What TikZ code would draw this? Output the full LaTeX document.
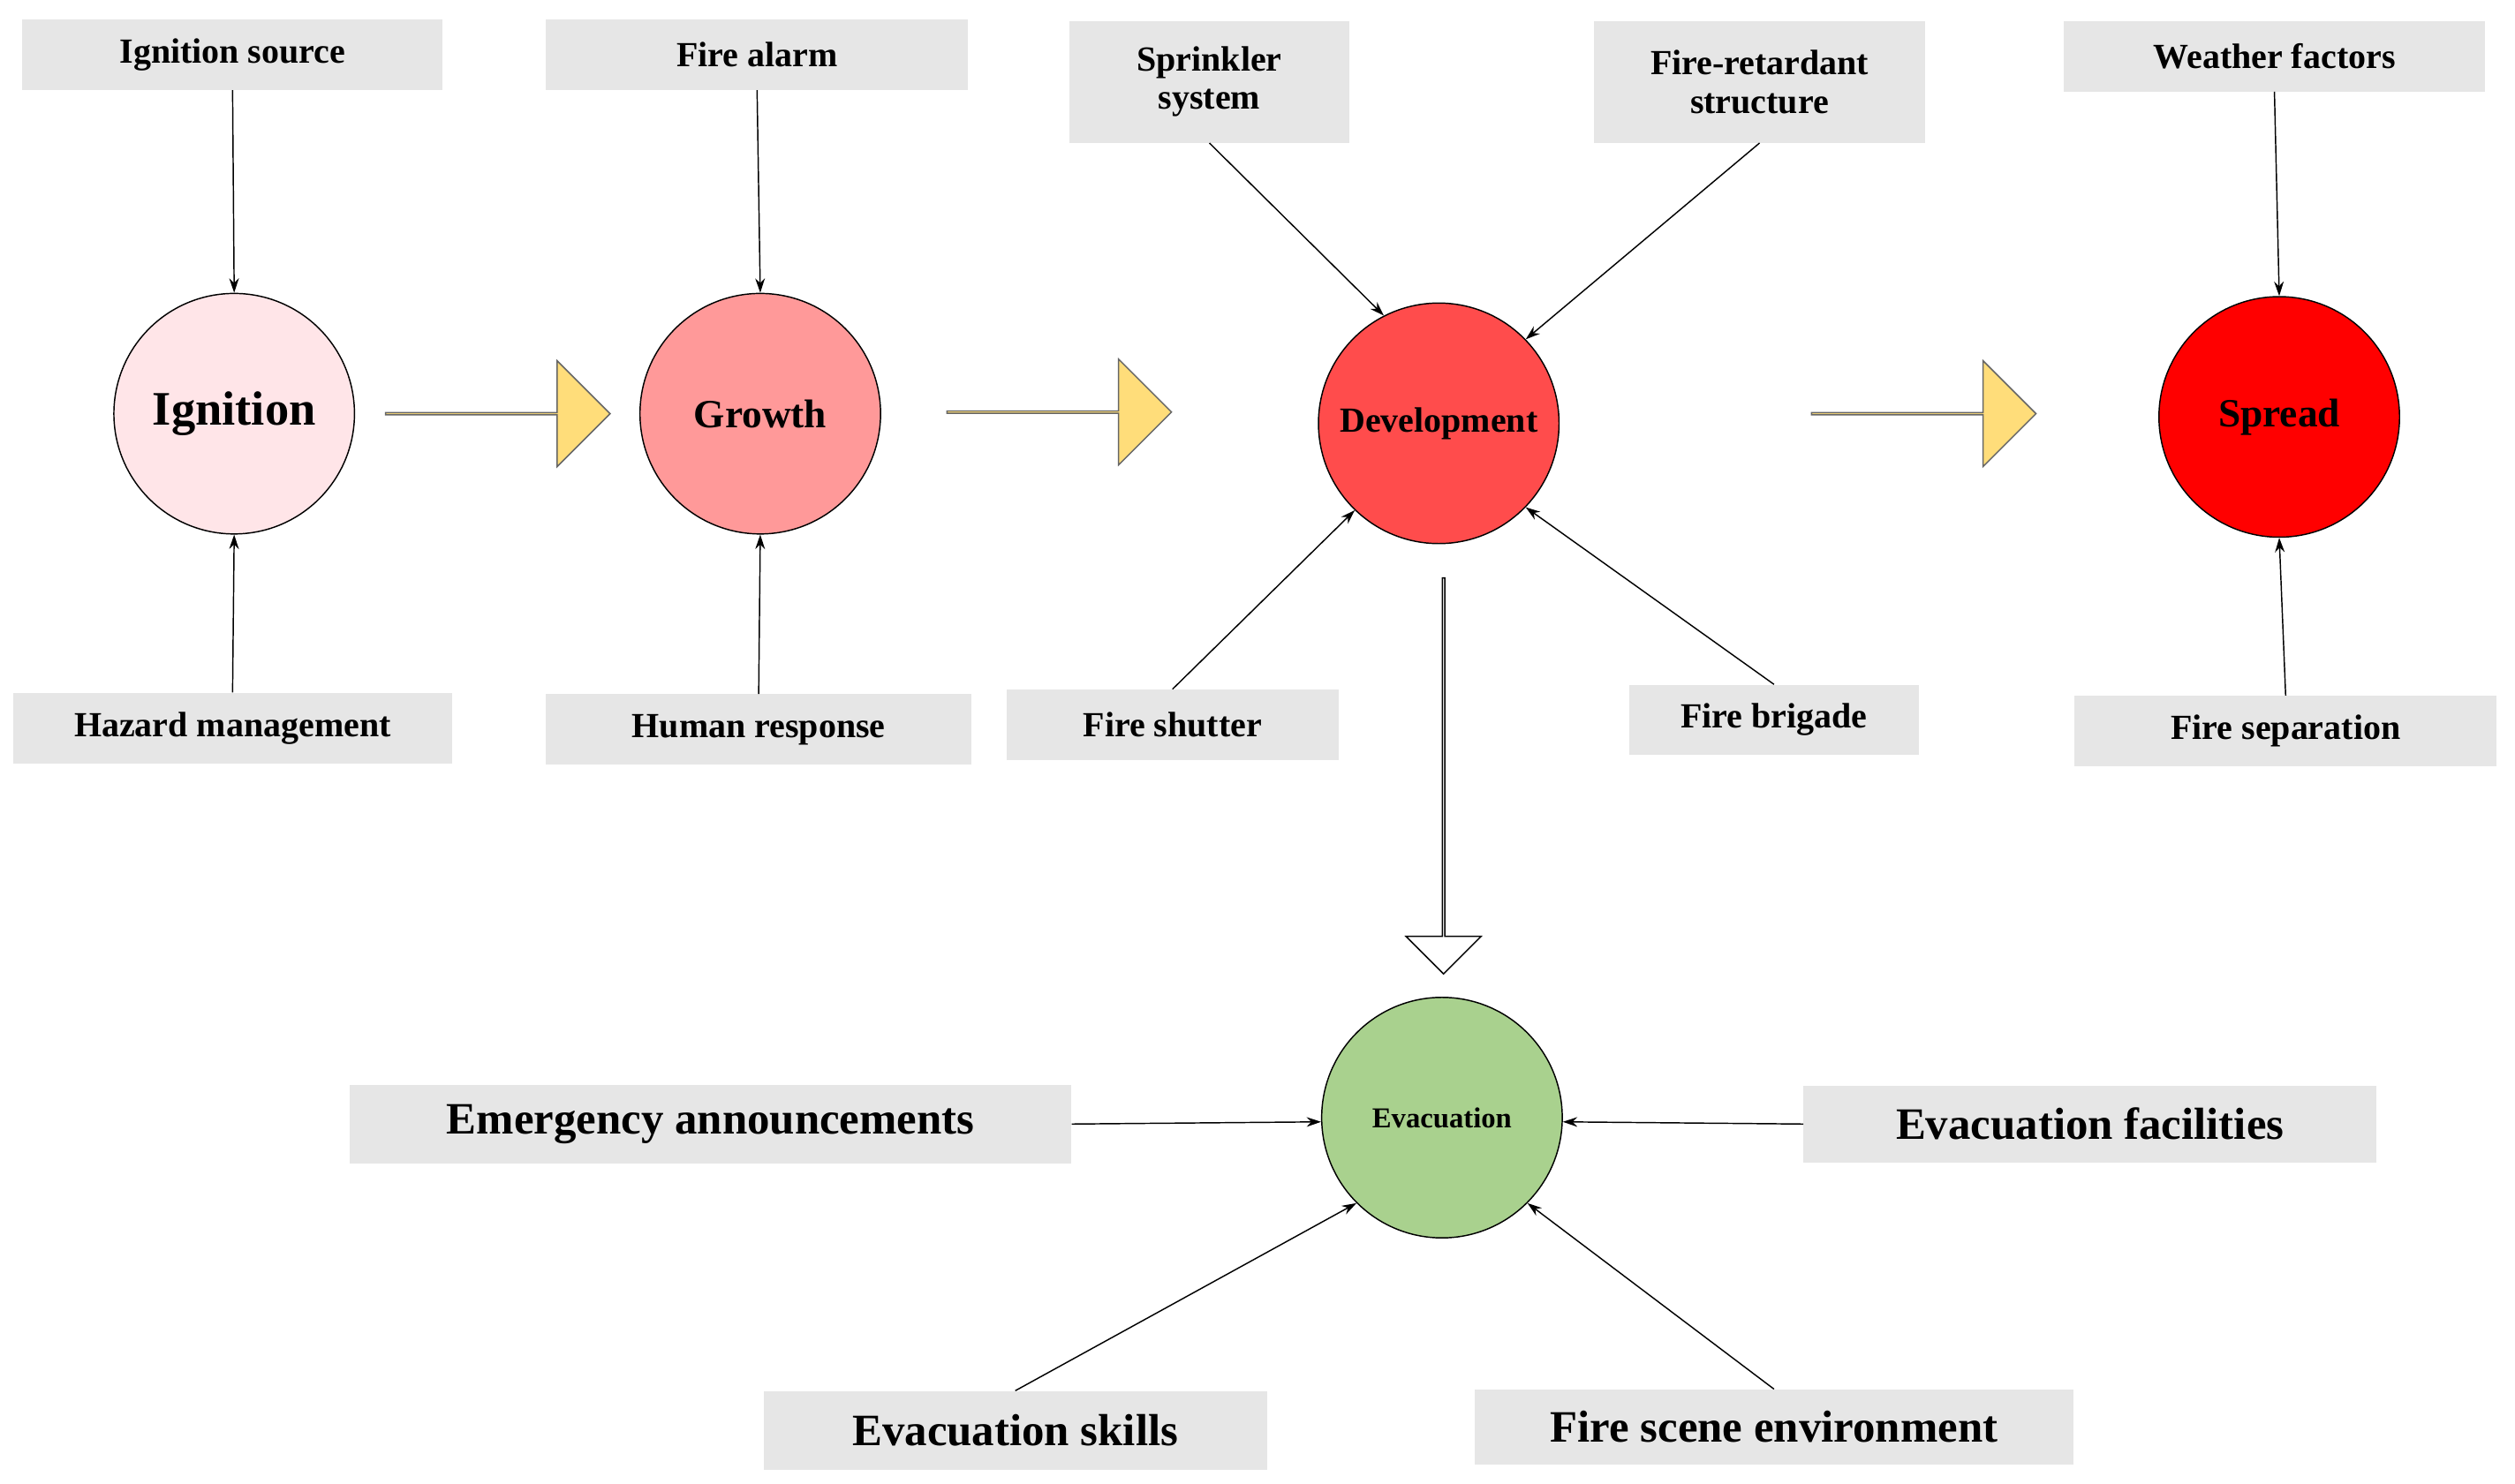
\documentclass[tikz,border=0pt]{standalone}
\usepackage{fontspec}
\setmainfont{Liberation Serif}
\usetikzlibrary{shapes.arrows,arrows.meta}
\definecolor{boxg}{HTML}{E6E6E6}
\definecolor{yel}{HTML}{FFDD7A}
\begin{document}
\begin{tikzpicture}[x=1pt,y=-1pt,
 box/.style={fill=boxg,draw=none,font=\bfseries\fontsize{22}{24}\selectfont,align=center,inner sep=0},
 bigbox/.style={box,font=\bfseries\fontsize{28}{30}\selectfont},
 circ/.style={circle,draw=black,line width=0.8pt,minimum size=150,inner sep=0,font=\bfseries},
 ar/.style={-{Stealth[length=9,width=6]},line width=0.8pt},
 yarrow/.style={single arrow,draw=black!60,line width=0.8pt,fill=yel,minimum height=140,minimum width=66,single arrow head extend=18,inner sep=0,shape border rotate=0}]
\useasboundingbox (0,0) rectangle (1568,925);
% boxes
\node[box,minimum width=262,minimum height=44] (is) at (145,34) {Ignition source};
\node[box,minimum width=263,minimum height=44] (fa) at (472,34) {Fire alarm};
\node[box,minimum width=175,minimum height=76] (ss) at (754,51) {Sprinkler\\system};
\node[box,minimum width=206,minimum height=76] (fr) at (1097,51) {Fire-retardant\\structure};
\node[box,minimum width=263,minimum height=44] (wf) at (1418,35) {Weather factors};
\node[box,minimum width=274,minimum height=44] (hm) at (145,454) {Hazard management};
\node[box,minimum width=265,minimum height=44] (hr) at (473,455) {Human response};
\node[box,minimum width=207,minimum height=44] (fs) at (731,452) {Fire shutter};
\node[box,minimum width=181,minimum height=44] (fb) at (1106,449) {Fire brigade};
\node[box,minimum width=263,minimum height=44] (fsep) at (1425,456) {Fire separation};
\node[bigbox,minimum width=450,minimum height=49] (ea) at (443,701) {Emergency announcements};
\node[bigbox,minimum width=357,minimum height=48] (ef) at (1303,701) {Evacuation facilities};
\node[bigbox,minimum width=314,minimum height=49] (es) at (633,892) {Evacuation skills};
\node[bigbox,minimum width=373,minimum height=47] (fse) at (1106,890) {Fire scene environment};
% circles
\node[circ,fill={rgb,255:red,255;green,229;blue,232},font=\bfseries\fontsize{30}{32}\selectfont] (ig) at (146,258) {Ignition};
\node[circ,fill={rgb,255:red,255;green,153;blue,153},font=\bfseries\fontsize{25}{27}\selectfont] (gr) at (474,258) {Growth};
\node[circ,fill={rgb,255:red,255;green,76;blue,76},font=\bfseries\fontsize{22}{24}\selectfont] (dev) at (897,264) {Development};
\node[circ,fill=red,font=\bfseries\fontsize{25}{27}\selectfont] (sp) at (1421,260) {Spread};
\node[circ,fill={rgb,255:red,169;green,209;blue,142},font=\bfseries\fontsize{18}{20}\selectfont] (ev) at (899,697) {Evacuation};
% yellow arrows
\node[yarrow] (y1) at (310,258) {};
\node[yarrow] (y2) at (660,257) {};
\node[yarrow] (y3) at (1199,258) {};
% white down arrow
\node[single arrow,draw=black,line width=0.8pt,fill=white,minimum height=247,minimum width=47,single arrow head extend=11.5,inner sep=0,shape border rotate=270] (wd) at (900,483.5) {};
% connectors
\draw[ar] (is.south) -- (ig.north);
\draw[ar] (hm.north) -- (ig.south);
\draw[ar] (fa.south) -- (gr.north);
\draw[ar] (hr.north) -- (gr.south);
\draw[ar] (wf.south) -- (sp.north);
\draw[ar] (fsep.north) -- (sp.south);
\draw[ar] (ss.south) -- (dev.117);
\draw[ar] (fr.south) -- (dev.44);
\draw[ar] (fs.north) -- (dev.226);
\draw[ar] (fb.north) -- (dev.316);
\draw[ar] (ea.east) -- (ev.182);
\draw[ar] (ef.west) -- (ev.-2);
\draw[ar] (es.north) -- (ev.225);
\draw[ar] (fse.north) -- (ev.315);
\end{tikzpicture}
\end{document}
